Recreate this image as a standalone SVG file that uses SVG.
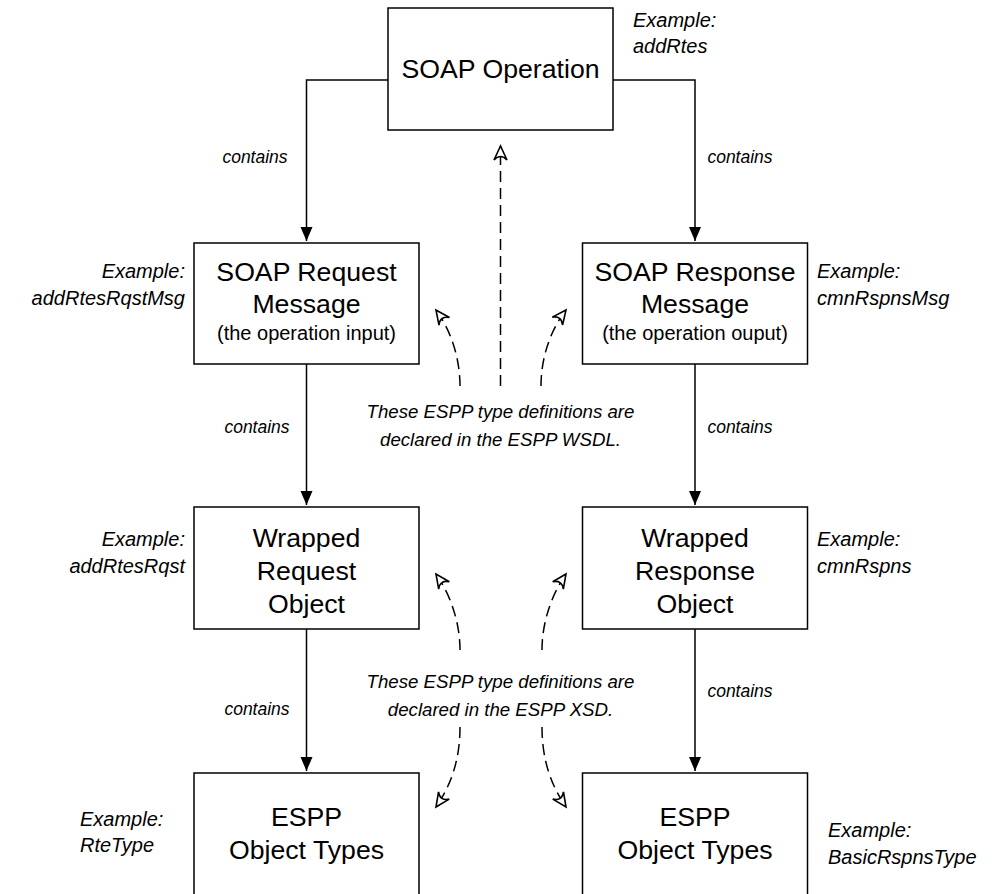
<svg xmlns="http://www.w3.org/2000/svg" width="1000" height="894" viewBox="0 0 1000 894">
<style>
.box{fill:#fff;stroke:#000;stroke-width:1.5}
.t{font-family:"Liberation Sans",Arial,sans-serif;font-size:26.67px;text-anchor:middle;fill:#000}
.s{font-family:"Liberation Sans",Arial,sans-serif;font-size:20px;text-anchor:middle;fill:#000}
.ex{font-family:"Liberation Sans",Arial,sans-serif;font-size:20px;font-style:italic;fill:#000}
.c{font-family:"Liberation Sans",Arial,sans-serif;font-size:17.5px;font-style:italic;text-anchor:middle;fill:#000}
.note{font-family:"Liberation Sans",Arial,sans-serif;font-size:18.67px;font-style:italic;text-anchor:middle;fill:#000}
.solid{fill:none;stroke:#000;stroke-width:1.5}
.dash{fill:none;stroke:#000;stroke-width:1.5;stroke-dasharray:11 6}
</style>
<defs>
<marker id="fa" markerWidth="16" markerHeight="14" refX="14" refY="6" orient="auto" markerUnits="userSpaceOnUse">
<path d="M0,0 L14,6 L0,12 Z" fill="#000"/>
</marker>
<marker id="oa" markerWidth="20" markerHeight="18" refX="15" refY="9" orient="auto" markerUnits="userSpaceOnUse">
<path d="M15,9 L1,2.5 Q8,9 1,15.5 Z" fill="#fff" stroke="#000" stroke-width="1.6" stroke-linejoin="miter"/>
</marker>
</defs>
<g id="connectors">
<path class="solid" d="M388,80 H306.5 V241" marker-end="url(#fa)"/>
<path class="solid" d="M613,80 H695 V241" marker-end="url(#fa)"/>
<path class="solid" d="M306.5,364 V505" marker-end="url(#fa)"/>
<path class="solid" d="M695,364 V505" marker-end="url(#fa)"/>
<path class="solid" d="M306.5,629 V771" marker-end="url(#fa)"/>
<path class="solid" d="M695,629 V771" marker-end="url(#fa)"/>
<path class="dash" d="M500.5,386 V146" marker-end="url(#oa)"/>
<path class="dash" d="M460,386 C460,360 452,332 436,310" marker-end="url(#oa)"/>
<path class="dash" d="M541,386 C541,360 549,332 566,310" marker-end="url(#oa)"/>
<path class="dash" d="M460,650 C460,625 452,597 436,574" marker-end="url(#oa)"/>
<path class="dash" d="M542,650 C542,625 550,597 566,574" marker-end="url(#oa)"/>
<path class="dash" d="M460,727 C460,760 451,785 436,807" marker-end="url(#oa)"/>
<path class="dash" d="M542,727 C542,760 551,785 566,807" marker-end="url(#oa)"/>
<text class="c" x="255" y="163">contains</text>
<text class="c" x="740" y="163">contains</text>
<text class="c" x="257" y="433">contains</text>
<text class="c" x="740" y="433">contains</text>
<text class="c" x="257" y="715">contains</text>
<text class="c" x="740" y="697">contains</text>
</g>
<g id="soap-operation">
<rect class="box" x="388" y="8" width="225" height="122"/>
<text class="t" x="500.5" y="78">SOAP Operation</text>
<text class="ex" x="633" y="27">Example:</text>
<text class="ex" x="633" y="53">addRtes</text>
</g>
<g id="soap-request">
<rect class="box" x="194" y="243" width="225" height="121"/>
<text class="t" x="306.5" y="281">SOAP Request</text>
<text class="t" x="306.5" y="313">Message</text>
<text class="s" x="306.5" y="340">(the operation input)</text>
<text class="ex" x="185" y="278" text-anchor="end">Example:</text>
<text class="ex" x="185" y="305" text-anchor="end">addRtesRqstMsg</text>
</g>
<g id="soap-response">
<rect class="box" x="582.5" y="243" width="225" height="121"/>
<text class="t" x="695" y="281">SOAP Response</text>
<text class="t" x="695" y="313">Message</text>
<text class="s" x="695" y="340">(the operation ouput)</text>
<text class="ex" x="817" y="278">Example:</text>
<text class="ex" x="817" y="305">cmnRspnsMsg</text>
</g>
<g id="wsdl-note">
<text class="note" x="500.5" y="418">These ESPP type definitions are</text>
<text class="note" x="500.5" y="446">declared in the ESPP WSDL.</text>
</g>
<g id="wrapped-request">
<rect class="box" x="194" y="507" width="225" height="122"/>
<text class="t" x="306.5" y="547">Wrapped</text>
<text class="t" x="306.5" y="580">Request</text>
<text class="t" x="306.5" y="613">Object</text>
<text class="ex" x="185" y="546" text-anchor="end">Example:</text>
<text class="ex" x="185" y="573" text-anchor="end">addRtesRqst</text>
</g>
<g id="wrapped-response">
<rect class="box" x="582.5" y="507" width="225" height="122"/>
<text class="t" x="695" y="547">Wrapped</text>
<text class="t" x="695" y="580">Response</text>
<text class="t" x="695" y="613">Object</text>
<text class="ex" x="817" y="546">Example:</text>
<text class="ex" x="817" y="573">cmnRspns</text>
</g>
<g id="xsd-note">
<text class="note" x="500.5" y="688">These ESPP type definitions are</text>
<text class="note" x="500.5" y="716">declared in the ESPP XSD.</text>
</g>
<g id="espp-left">
<rect class="box" x="194" y="773" width="225" height="140"/>
<text class="t" x="306.5" y="826">ESPP</text>
<text class="t" x="306.5" y="859">Object Types</text>
<text class="ex" x="80" y="826">Example:</text>
<text class="ex" x="80" y="852">RteType</text>
</g>
<g id="espp-right">
<rect class="box" x="582.5" y="773" width="225" height="140"/>
<text class="t" x="695" y="826">ESPP</text>
<text class="t" x="695" y="859">Object Types</text>
<text class="ex" x="828" y="837">Example:</text>
<text class="ex" x="828" y="864">BasicRspnsType</text>
</g>
</svg>
